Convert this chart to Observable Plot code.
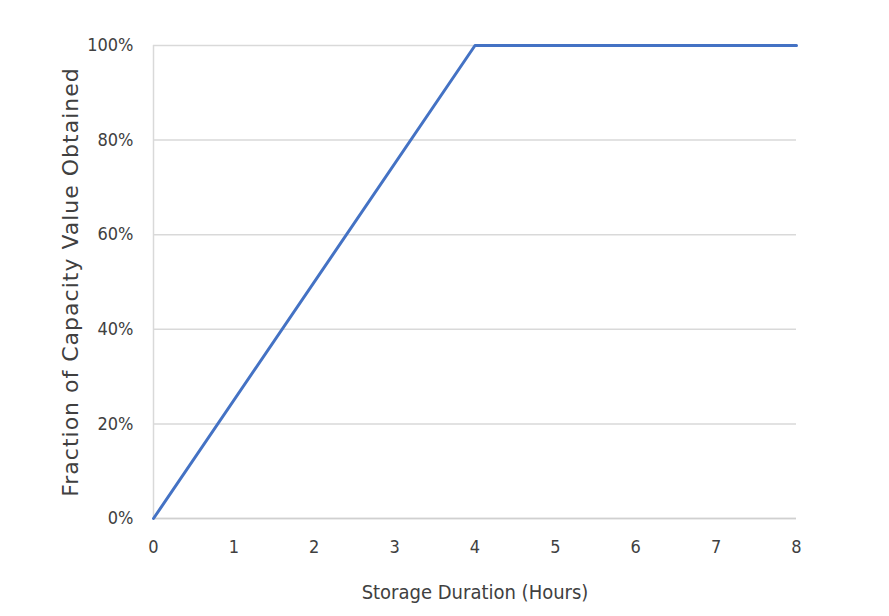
<!DOCTYPE html>
<html>
<head>
<meta charset="utf-8">
<script src="https://cdn.jsdelivr.net/npm/d3@7"></script>
<script src="https://cdn.jsdelivr.net/npm/@observablehq/plot@0.6"></script>
<style>
  html, body { margin: 0; padding: 0; background: #fff; }
  #chart { width: 889px; height: 616px; }
  .ytitle text { letter-spacing: 1px; }
</style>
</head>
<body>
<div id="chart"></div>
<script>
const hours = [0, 4, 8];
const fraction = [0, 1, 1];
const xTicks = [0, 1, 2, 3, 4, 5, 6, 7, 8];
const yTicks = [0, 0.2, 0.4, 0.6, 0.8, 1.0];
const xTitle = "Storage Duration (Hours)";
const yTitle = "Fraction of Capacity Value Obtained";

const data = hours.map((h, i) => ({hours: h, fraction: fraction[i]}));
const narrow = "'Liberation Sans Narrow', 'DejaVu Sans Condensed', sans-serif";

const chart = Plot.plot({
  width: 889,
  height: 616,
  marginLeft: 153,
  marginRight: 93,
  marginTop: 45,
  marginBottom: 98,
  style: {background: "#fff", fontFamily: narrow, fontSize: "17px", color: "#404040"},
  x: {domain: [0, 8]},
  y: {domain: [0, 1]},
  marks: [
    Plot.gridY(yTicks, {stroke: "#d9d9d9", strokeOpacity: 1, strokeWidth: 1.5}),
    Plot.ruleX([0], {stroke: "#d9d9d9", strokeWidth: 1.5}),
    Plot.ruleY([0], {stroke: "#d0d0d0", strokeWidth: 1.5}),
    Plot.axisX(xTicks, {tickSize: 0, tickPadding: 22, label: null, fontSize: 18, fill: "#404040"}),
    Plot.axisY(yTicks, {tickSize: 0, tickPadding: 20, label: null, tickFormat: d => Math.round(d * 100) + "%", fontSize: 18, fill: "#404040"}),
    Plot.line(data, {x: "hours", y: "fraction", stroke: "#4472C4", strokeWidth: 3}),
    Plot.text([xTitle], {frameAnchor: "bottom", dy: 80, fontSize: 20, fill: "#404040", fontFamily: narrow}),
    Plot.text([yTitle], {frameAnchor: "left", textAnchor: "middle", dx: -83, rotate: -90, fontSize: 22, fill: "#404040", fontFamily: "'DejaVu Sans', sans-serif", className: "ytitle"})
  ]
});
document.getElementById("chart").append(chart);
</script>
</body>
</html>
